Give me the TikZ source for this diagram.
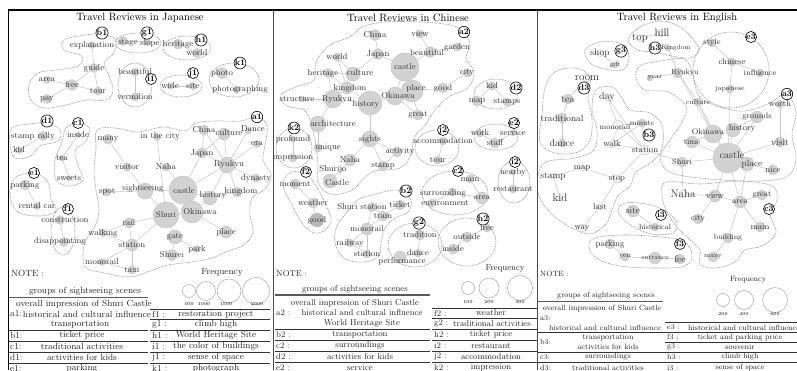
\documentclass[tikz,border=0pt]{standalone}
\pgfdeclarelayer{bgl}
\pgfdeclarelayer{edgelayer}
\pgfdeclarelayer{fg}
\pgfsetlayers{bgl,edgelayer,main,fg}
\newcommand{\fsz}[1]{\fontsize{#1}{#1}\selectfont}
\tikzset{
 bub/.style={circle, fill=gray!35, draw=gray!50, line width=0.3pt, inner sep=0pt},
 pale/.style={fill=gray!8},
 dark/.style={fill=gray!55},
 wt/.style={inner sep=0pt, text=black!80, font=\fsz{8.5}},
 edge/.style={draw=gray!45, line width=0.5pt},
 grp/.style={draw=gray!85, line width=0.55pt, dash pattern=on 0.9pt off 0.7pt},
 glab/.style={circle, draw=black, fill=white, line width=0.6pt, inner sep=0pt, minimum size=11pt, font=\bfseries\fsz{8.5}},
 ttl/.style={font=\fsz{10.6}, inner sep=0pt},
 tbA/.style={font=\fsz{9}, inner sep=0pt, text=black!85},
 tbB/.style={font=\fsz{8.5}, inner sep=0pt, text=black!85},
 tbC/.style={font=\fsz{7.6}, inner sep=0pt, text=black!85},
 tline/.style={line width=0.5pt, draw=black!80},
 tthick/.style={line width=1.1pt, draw=black!65},
 freq/.style={circle, draw=gray!70, line width=0.5pt, inner sep=0pt},
 fnum/.style={font=\fsz{4.5}, inner sep=0pt},
}
\newcommand{\W}[6][]{\node[bub,#1,minimum size=#5pt] (#2) at (#3,#4) {};\begin{pgfonlayer}{fg}\node[wt] (#2t) at (#3,#4) {#6};\end{pgfonlayer}}
\newcommand{\WO}[8][]{\node[bub,#1,minimum size=#5pt] (#2) at (#3,#4) {};\begin{pgfonlayer}{fg}\node[wt] (#2t) at (#6,#7) {#8};\end{pgfonlayer}}
\newcommand{\G}[4]{\begin{pgfonlayer}{fg}\node[glab] (#1) at (#2,#3) {#4};\end{pgfonlayer}}
\newcommand{\EE}[1]{\begin{pgfonlayer}{edgelayer}\foreach \a/\b in {#1} \draw[edge] (\a) -- (\b);\end{pgfonlayer}}
\newcommand{\OL}[1]{\begin{pgfonlayer}{edgelayer}\draw[grp] plot[smooth cycle, tension=0.6] coordinates {#1};\end{pgfonlayer}}
\newcommand{\ELL}[4]{\begin{pgfonlayer}{edgelayer}\draw[grp] (#1,#2) ellipse[x radius=#3pt, y radius=#4pt];\end{pgfonlayer}}
\begin{document}
\begin{tikzpicture}[x=1pt,y=-1pt]
\useasboundingbox (0,0) rectangle (797,370);
\begin{pgfonlayer}{bgl}\fill[white] (0,0) rectangle (797,370);\end{pgfonlayer}
% frame
\draw[line width=1.4pt] (8,10) -- (797,10);
\draw[line width=1.6pt] (8.5,10) -- (8.5,370);
\draw[line width=0.7pt, black!70] (273,10) -- (273,370);
\draw[line width=0.7pt, black!70] (537,10) -- (537,370);
\node[ttl] (t1) at (140,18) {Travel Reviews in Japanese};
\node[ttl] (t2) at (408,18) {Travel Reviews in Chinese};
\node[ttl] (t3) at (677,18) {Travel Reviews in English};

%================ PANEL 1 =================
\W{Jexpl}{92}{45}{7}{explanation}
\W{Jguide}{94}{68}{9}{guide}
\W{Jarea}{47}{80}{7}{area}
\W{Jfree}{72}{85}{11}{free}
\W{Jtour}{98}{91}{8}{tour}
\W{Jpay}{47}{99}{9}{pay}
\WO{Jstage}{123}{41}{9}{128}{43}{stage}
\WO{Jslope}{147}{42}{7}{150}{43}{slope}
\W{Jheritage}{178}{44}{10}{heritage}
\W{Jworld}{197}{53}{9}{world}
\W{Jbeau}{135}{72}{8}{beautiful}
\W{Jverm}{135}{97}{8}{vermilion}
\W{Jwide}{170}{86}{6}{wide}
\W{Jsite}{193}{86}{7}{site}
\W{Jphoto}{222}{73}{11}{photo}
\WO{Jphotog}{237}{89}{7}{240}{89}{photographing}
\WO{Jrally}{43}{136}{9}{33}{136}{stamp rally}
\W{Jkid}{19}{150}{7}{kid}
\W{Jinside}{78}{135}{5}{inside}
\W{Jtea}{62}{158}{6}{tea}
\W{Jsweets}{69}{178}{5}{sweets}
\W{Jparking}{25}{185}{10}{parking}
\W{Jrental}{37}{206}{7}{rental car}
\WO{Jconstr}{60}{220}{9}{65}{220}{construction}
\WO{Jdisap}{64}{242}{9}{60}{241}{disappointing}
\W{Jmany}{108}{139}{10}{many}
\WO{Jcity}{157}{137}{7}{160}{136}{in the city}
\W{JChina}{204}{130}{10}{China}
\WO{Jculture}{224}{134}{12}{229}{133}{culture}
\WO{JDance}{248}{131}{6}{253}{129}{Dance}
\W{Jera}{257}{144}{7}{era}
\W{JJapan}{202}{153}{10}{Japan}
\WO{JRyukyu}{227}{165}{16}{229}{164}{Ryukyu}
\W{Jvisitor}{127}{167}{8}{visitor}
\W{JNaha}{166}{167}{8}{Naha}
\W{Jdynasty}{256}{178}{8}{dynasty}
\W{Jspot}{107}{192}{8}{spot}
\WO{Jsight}{145}{191}{16}{143}{188}{sightseeing}
\WO{Jcastle}{183}{190}{28}{184}{191}{castle}
\WO{Jhistory}{210}{198}{14}{213}{195}{history}
\WO{Jkingdom}{237}{192}{10}{241}{191}{kingdom}
\W{JShuri}{166}{215}{26}{Shuri}
\WO{JOkinawa}{192}{212}{22}{200}{212}{Okinawa}
\W{Jrail}{129}{223}{10}{rail}
\W{Jwalking}{103}{233}{7}{walking}
\W{Jgate}{175}{237}{14}{gate}
\W{Jplace}{226}{232}{12}{place}
\W{Jstation}{132}{245}{12}{station}
\W{Jpark}{197}{249}{7}{park}
\W{JShurei}{172}{255}{11}{Shurei}
\W{Jmonorail}{102}{262}{7}{monorail}
\W{Jtaxi}{132}{270}{8}{taxi}
\EE{Jexpl/Jguide, Jguide/Jfree, Jguide/Jtour, Jfree/Jtour, Jarea/Jfree, Jpay/Jfree, Jstage/Jslope, Jheritage/Jworld, Jbeau/Jverm, Jwide/Jsite, Jphoto/Jphotog, Jrally/Jkid, Jinside/Jtea, Jtea/Jsweets, Jparking/Jrental, Jconstr/Jdisap,
Jmany/Jvisitor, Jvisitor/Jsight, Jcity/JShuri, JNaha/Jcastle, Jspot/Jsight, Jsight/Jcastle, Jsight/JShuri, JChina/JJapan, JChina/JRyukyu, Jculture/JJapan, Jculture/JRyukyu, JDance/JRyukyu, Jera/JRyukyu, JJapan/Jcastle, JJapan/JRyukyu, JRyukyu/Jcastle, JRyukyu/Jhistory, JRyukyu/Jdynasty, JRyukyu/Jkingdom, Jhistory/Jcastle, Jhistory/Jkingdom, Jcastle/JShuri, Jcastle/JOkinawa, JShuri/JOkinawa, JShuri/Jgate, JShuri/Jrail, JShuri/Jstation, JOkinawa/Jplace, JOkinawa/Jhistory, Jgate/JShurei, Jgate/Jpark, Jrail/Jwalking, Jrail/Jstation, Jwalking/Jstation, Jstation/Jmonorail, Jstation/Jtaxi, Jmonorail/Jtaxi}
% outlines
\OL{(64,40)(85,35)(104,34)(117,42)(112,55)(104,63)(109,76)(113,90)(106,100)(86,100)(66,105)(44,108)(31,100)(29,85)(38,73)(56,70)(78,66)(82,56)(64,50)}
\ELL{138}{43}{23}{10}
\ELL{187}{48}{24}{12}
\ELL{135}{85}{17}{22}
\ELL{181}{86}{21}{11}
\ELL{234}{80}{25}{17}
\OL{(12,128)(30,124)(47,123)(60,130)(58,141)(40,146)(31,156)(15,158)(10,145)}
\OL{(66,128)(78,123)(89,128)(86,141)(75,151)(79,168)(83,180)(70,186)(56,180)(55,160)(62,142)}
\OL{(15,178)(34,173)(48,182)(51,199)(56,211)(40,216)(18,212)(10,195)}
\ELL{63}{231}{12}{24}
\OL{(97,130)(115,128)(135,132)(148,130)(165,127)(185,131)(196,123)(215,121)(240,121)(257,117)(267,126)(265,145)(263,160)(271,175)(265,189)(252,198)(250,215)(253,232)(244,245)(228,251)(212,258)(192,262)(168,265)(150,271)(130,277)(105,273)(86,268)(83,255)(86,240)(95,226)(99,210)(96,190)(94,170)(96,150)}
\G{la1}{257}{117}{a1}
\G{lb1}{102}{33}{b1}
\G{lc1}{78}{123}{c1}
\G{ld1}{47}{121}{d1}
\G{le1}{34}{173}{e1}
\G{lf1}{68}{209}{f1}
\G{lg1}{147}{33}{g1}
\G{lh1}{201}{40}{h1}
\G{li1}{151}{79}{i1}
\G{lj1}{193}{73}{j1}
\G{lk1}{240}{63}{k1}
% table 1
\node[tbA, anchor=west] (n1) at (11,273) {NOTE :};
\node[tbA] (fq1) at (222,272) {Frequency};
\node[freq, minimum size=13pt] (c1a) at (189,291) {};
\node[freq, minimum size=19pt] (c1b) at (206,291) {};
\node[freq, minimum size=24pt] (c1c) at (229,291) {};
\node[freq, minimum size=27pt] (c1d) at (256,291) {};
\node[fnum] (c1an) at (189,304) {500};
\node[fnum] (c1bn) at (204,304) {1000};
\node[fnum] (c1cn) at (226,304) {1500};
\node[fnum] (c1dn) at (257,304) {2000};
\node[tbA] (p1g) at (85,291.5) {groups of sightseeing scenes};
\draw[tthick] (9,297.5) -- (148,297.5);
\node[tbA] (p1o) at (84,304) {overall impression of Shuri Castle};
\draw[tline] (150,309) -- (270,309);
\node[tbA, anchor=west] (p1a) at (10,314) {a1:};
\node[tbA] (p1at) at (87,314) {historical and cultural influence};
\node[tbA, anchor=west] (p1f) at (152,314) {f1 :};
\node[tbA] (p1ft) at (216,314) {restoration project};
\draw[tline] (150,319.5) -- (270,319.5);
\node[tbA] (p1tr) at (80,324.5) {transportation};
\node[tbA, anchor=west] (p1g1) at (152,324.5) {g1 :};
\node[tbA] (p1gt) at (216,324.5) {climb high};
\draw[tline] (9,330) -- (148,330);
\draw[tline] (150,330) -- (270,330);
\node[tbA, anchor=west] (p1b) at (10,335.5) {b1:};
\node[tbA] (p1bt) at (82,335.5) {ticket price};
\node[tbA, anchor=west] (p1h) at (152,335.5) {h1 :};
\node[tbA] (p1ht) at (216,335.5) {World Heritage Site};
\draw[tline] (9,341) -- (148,341);
\draw[tline] (150,341) -- (270,341);
\node[tbA, anchor=west] (p1c) at (10,346.5) {c1:};
\node[tbA] (p1ct) at (82,346.5) {traditional activities};
\node[tbA, anchor=west] (p1i) at (152,346.5) {i1 :};
\node[tbA] (p1it) at (216,346.5) {the color of buildings};
\draw[tline] (9,352) -- (148,352);
\draw[tline] (150,352) -- (270,352);
\node[tbA, anchor=west] (p1d) at (10,357.5) {d1:};
\node[tbA] (p1dt) at (82,357.5) {activities for kids};
\node[tbA, anchor=west] (p1j) at (152,357.5) {j1 :};
\node[tbA] (p1jt) at (216,357.5) {sense of space};
\draw[tline] (9,363) -- (148,363);
\draw[tline] (150,363) -- (270,363);
\node[tbA, anchor=west] (p1e) at (10,368.5) {e1:};
\node[tbA] (p1et) at (82,368.5) {parking};
\node[tbA, anchor=west] (p1k) at (152,368.5) {k1 :};
\node[tbA] (p1kt) at (216,368.5) {photograph};

%================ PANEL 2 =================
\W{CChina}{375}{35}{11}{China}
\W{Cview}{420}{34}{8}{view}
\W{Cgarden}{457}{47}{8}{garden}
\W{CJapan}{378}{54}{11}{Japan}
\WO{Cbeau}{430}{52}{11}{427}{53}{beautiful}
\W{Cworld}{337}{57}{8}{world}
\W{Ccastle}{405}{67}{28}{castle}
\WO{Cheritage}{328}{73}{9}{323}{73}{heritage}
\WO{Cculture}{353}{74}{14}{360}{73}{culture}
\W{Ccity}{467}{73}{8}{city}
\WO{Ckingdom}{347}{88}{12}{350}{88}{kingdom}
\W{Cgood}{443}{88}{10}{good}
\WO{COkinawa}{395}{96}{18}{398}{96}{Okinawa}
\WO{Cplace}{412}{91}{22}{416}{88}{place}
\WO{Cstructure}{302}{99}{6}{297}{99}{structure}
\WO{CRyukyu}{333}{99}{18}{337}{99}{Ryukyu}
\WO{Chistory}{370}{103}{24}{366}{104}{history}
\W{Cgreat}{418}{115}{10}{great}
\WO{Carch}{318}{124}{16}{333}{124}{architecture}
\W{Csights}{370}{139}{16}{sights}
\WO{Cunique}{318}{148}{8}{328}{148}{unique}
\WO{Cactivity}{397}{152}{10}{400}{152}{activity}
\W{CNaha}{350}{160}{12}{Naha}
\W{Cstamp}{383}{166}{10}{stamp}
\WO{CShurijo}{330}{181}{14}{337}{183}{Castle}
\begin{pgfonlayer}{fg}\node[wt] (CShurijo2) at (333,169) {Shurijo};\end{pgfonlayer}
\W{Ckid}{492}{86}{8}{kid}
\W{Cmap}{477}{101}{10}{map}
\W{Cstamps}{507}{102}{8}{stamps}
\W{Cwork}{480}{133}{8}{work}
\W{Cservice}{513}{133}{6}{service}
\W{Cstaff}{495}{143}{10}{staff}
\W{Caccom}{443}{141}{8}{accommodation}
\W{Ctour}{438}{160}{8}{tour}
\W{Cprofound}{293}{139}{6}{profound}
\W{Cimpr}{293}{158}{8}{impression}
\W{Cmoment}{295}{184}{10}{moment}
\W{Cweather}{313}{203}{10}{weather}
\W[dark]{Cgood2}{317}{220}{14}{good}
\W{Cmain}{470}{179}{8}{main}
\WO{Csurr}{452}{192}{8}{443}{193}{surrounding}
\W{Carea}{482}{198}{12}{area}
\WO{Cenv}{432}{203}{8}{445}{203}{environment}
\W{Cnearby}{513}{172}{6}{nearby}
\W{Crest}{513}{189}{8}{restaurant}
\WO{Cshst}{372}{207}{9}{362}{207}{Shuri station}
\W{Cticket}{400}{205}{10}{ticket}
\W{Ctram}{383}{216}{10}{tram}
\W{Cmono}{367}{229}{12}{monorail}
\W{Crailway}{350}{243}{8}{railway}
\W{Cstation}{367}{254}{8}{station}
\W{Ctrad}{420}{235}{10}{tradition}
\W{Cdance}{418}{253}{8}{dance}
\WO{Cperf}{400}{257}{12}{402}{261}{performance}
\W{Cfree}{487}{228}{8}{free}
\W{Coutside}{467}{237}{10}{outside}
\W{Cinside}{453}{249}{10}{inside}
\EE{CChina/CJapan, Cview/Cbeau, Cbeau/Ccastle, Cgarden/Cbeau, CJapan/Ccastle, CJapan/Cculture, Cworld/Cculture, Cworld/Ckingdom, Cheritage/Cculture, Cheritage/Ckingdom, Cheritage/CRyukyu, Cculture/Ckingdom, Cculture/CRyukyu, Ckingdom/CRyukyu, Ckingdom/Chistory, Cstructure/CRyukyu, CRyukyu/Chistory, CRyukyu/Carch, Chistory/COkinawa, Chistory/Csights, COkinawa/Ccastle, COkinawa/Cplace, COkinawa/Cgreat, Ccastle/Cplace, Cplace/Cgood, Cplace/Cgreat, Cgood/Ccity, Carch/Cunique, Csights/CNaha, Csights/Cactivity, Csights/Cstamp, Cactivity/Cstamp, CNaha/CShurijo, Ckid/Cmap, Ckid/Cstamps, Cwork/Cstaff, Cservice/Cstaff, Caccom/Ctour, Cprofound/Cimpr, Cmoment/Cweather, Cweather/Cgood2, Cmain/Carea, Csurr/Carea, Csurr/Cenv, Cnearby/Crest, Cshst/Ctram, Cshst/Cmono, Cticket/Ctram, Ctram/Cmono, Cmono/Crailway, Cmono/Cstation, Crailway/Cstation, Ctrad/Cdance, Cdance/Cperf, Cfree/Coutside, Coutside/Cinside}
\OL{(330,45)(350,37)(362,27)(385,22)(420,22)(450,25)(464,32)(470,45)(466,58)(474,72)(468,88)(450,96)(435,110)(425,125)(414,138)(411,155)(400,168)(372,172)(352,190)(330,194)(318,182)(318,165)(315,140)(306,112)(287,106)(281,95)(298,86)(314,80)(316,62)}
\ELL{496}{94}{22}{15}
\ELL{496}{137}{22}{13}
\ELL{437}{148}{22}{18}
\ELL{294}{148}{18}{20}
\OL{(298,172)(312,180)(326,205)(331,222)(319,233)(305,227)(292,205)(283,186)(288,174)}
\ELL{455}{193}{33}{22}
\ELL{514}{182}{16}{21}
\OL{(372,195)(398,190)(411,200)(408,212)(395,218)(385,228)(381,243)(379,256)(365,262)(345,259)(335,243)(337,226)(347,212)(356,201)}
\ELL{415}{245}{27}{22}
\ELL{467}{242}{29}{24}
\G{la2}{464}{32}{a2}
\G{lb2}{406}{191}{b2}
\G{lc2}{458}{171}{c2}
\G{ld2}{516}{88}{d2}
\G{le2}{514}{123}{e2}
\G{lf2}{306}{172}{f2}
\G{lg2}{419}{223}{g2}
\G{lh2}{483}{219}{h2}
\G{li2}{515}{162}{i2}
\G{lj2}{443}{130}{j2}
\G{lk2}{294}{128}{k2}
% table 2
\node[tbB, anchor=west] (n2) at (276,274) {NOTE :};
\node[tbB] (fq2) at (505,268) {Frequency};
\node[freq, minimum size=13pt] (c2a) at (468,288) {};
\node[freq, minimum size=20pt] (c2b) at (489,288) {};
\node[freq, minimum size=25pt] (c2c) at (520,288) {};
\node[fnum] (c2an) at (468,302) {100};
\node[fnum] (c2bn) at (489,302) {200};
\node[fnum] (c2cn) at (520,302) {300};
\node[tbB] (p2g) at (355,289.5) {groups of sightseeing scenes};
\draw[tthick] (275,295) -- (430,295);
\node[tbB] (p2o) at (355,303) {overall impression of Shuri Castle};
\draw[tline] (432,308) -- (537,308);
\node[tbB, anchor=west] (p2a) at (276,313) {a2 :};
\node[tbB] (p2at) at (362,313) {historical and cultural influence};
\node[tbB, anchor=west] (p2f) at (434,313) {f2 :};
\node[tbB] (p2ft) at (491,313) {weather};
\draw[tline] (432,318.5) -- (537,318.5);
\node[tbB] (p2w) at (362,323.5) {World Heritage Site};
\node[tbB, anchor=west] (p2g2) at (434,323.5) {g2 :};
\node[tbB] (p2gt) at (492,323.5) {traditional activities};
\draw[tline] (275,329) -- (430,329);
\draw[tline] (432,329) -- (537,329);
\node[tbB, anchor=west] (p2b) at (276,334.5) {b2 :};
\node[tbB] (p2bt) at (360,334.5) {transportation};
\node[tbB, anchor=west] (p2h) at (434,334.5) {h2 :};
\node[tbB] (p2ht) at (491,334.5) {ticket price};
\draw[tline] (275,340) -- (430,340);
\draw[tline] (432,340) -- (537,340);
\node[tbB, anchor=west] (p2c) at (276,345.5) {c2 :};
\node[tbB] (p2ct) at (360,345.5) {surroundings};
\node[tbB, anchor=west] (p2i) at (434,345.5) {i2 :};
\node[tbB] (p2it) at (491,345.5) {restaurant};
\draw[tline] (275,351) -- (430,351);
\draw[tline] (432,351) -- (537,351);
\node[tbB, anchor=west] (p2d) at (276,356.5) {d2 :};
\node[tbB] (p2dt) at (360,356.5) {activities for kids};
\node[tbB, anchor=west] (p2j) at (434,356.5) {j2 :};
\node[tbB] (p2jt) at (491,356.5) {accommodation};
\draw[tline] (275,362) -- (430,362);
\draw[tline] (432,362) -- (537,362);
\node[tbB, anchor=west] (p2e) at (276,367.5) {e2 :};
\node[tbB] (p2et) at (360,367.5) {service};
\node[tbB, anchor=west] (p2k) at (434,367.5) {k2 :};
\node[tbB] (p2kt) at (491,367.5) {impression};

%================ PANEL 3 =================
\W[pale]{Etop}{640}{38}{7}{\fsz{11}top}
\W[pale]{Ehill}{662}{33}{7}{\fsz{11}hill}
\WO{EKing}{668}{48}{6}{676}{48}{\fsz{6.5}Kingdom}
\W[pale]{Eshop}{600}{53}{7}{\fsz{9.5}shop}
\W{Egift}{615}{65}{6}{\fsz{6.5}gift}
\W{Estyle}{712}{43}{8}{\fsz{8}style}
\W{Echinese}{732}{62}{8}{\fsz{8.5}chinese}
\W{Einfl}{760}{73}{8}{\fsz{8}influence}
\W{Ejapanese}{730}{89}{8}{\fsz{7}japanese}
\W[pale]{Eroom}{587}{78}{8}{\fsz{11}room}
\WO{Eyear}{650}{78}{6}{655}{78}{\fsz{7}year}
\WO{ERyukyu}{678}{73}{10}{685}{73}{\fsz{7.5}Ryukyu}
\W{Etea}{568}{99}{10}{\fsz{10}tea}
\W[pale]{Eday}{607}{97}{7}{\fsz{10}day}
\W{Eculture}{698}{102}{8}{\fsz{7}culture}
\W{Eworth}{780}{104}{8}{\fsz{8.5}worth}
\W{Etrad}{562}{118}{10}{\fsz{9}traditional}
\W{Egrounds}{757}{117}{12}{\fsz{8}grounds}
\WO[pale]{Emono}{618}{125}{10}{615}{127}{\fsz{7.5}monorail}
\W{Eminute}{642}{123}{8}{\fsz{7.5}minute}
\WO{EOkinawa}{713}{134}{18}{708}{132}{\fsz{8}Okinawa}
\WO{Ehistory}{733}{130}{14}{742}{128}{\fsz{8.5}history}
\W{Edance}{562}{143}{8}{\fsz{10}dance}
\W[pale]{Ewalk}{612}{144}{8}{\fsz{8.5}walk}
\W{Etime}{692}{142}{12}{\fsz{8}time}
\W{Evisit}{780}{142}{10}{\fsz{9.5}visit}
\W[pale]{Estation}{645}{150}{10}{\fsz{8.5}station}
\WO{Ecastle}{728}{158}{30}{732}{155}{\fsz{10}castle}
\W{EShuri}{682}{162}{10}{\fsz{8}Shuri}
\WO{Eplace}{747}{164}{14}{752}{164}{\fsz{9}place}
\W{Enice}{773}{170}{10}{\fsz{8.5}nice}
\W[pale]{Emap}{582}{168}{6}{\fsz{8.5}map}
\W[pale]{Estamp}{553}{176}{6}{\fsz{9.5}stamp}
\W[pale]{Estop}{617}{179}{8}{\fsz{8.5}stop}
\W[pale]{ENaha}{683}{194}{8}{\fsz{11}Naha}
\W{Eview}{715}{196}{12}{\fsz{9}view}
\W{Egreat}{762}{195}{10}{\fsz{8}great}
\W[pale]{Ekid}{560}{198}{6}{\fsz{11}kid}
\W{Earea}{740}{202}{12}{\fsz{8}area}
\W[pale]{Elast}{600}{207}{6}{\fsz{8.5}last}
\W{Esite}{633}{211}{12}{\fsz{9}site}
\W{Ecity}{698}{219}{10}{\fsz{8}city}
\W{Ehist}{655}{227}{8}{\fsz{7.5}historical}
\W{Emain}{760}{227}{10}{\fsz{8.5}main}
\W[pale]{Eway}{582}{228}{8}{\fsz{8.5}way}
\W{Ebuild}{728}{238}{10}{\fsz{7.5}building}
\W{Eparking}{610}{244}{10}{\fsz{8.5}parking}
\W{Eyen}{625}{257}{8}{\fsz{7.5}yen}
\W{Eentr}{655}{258}{12}{\fsz{6.5}entrance}
\W{Efee}{680}{259}{10}{\fsz{9.5}fee}
\W{Emany}{713}{257}{10}{\fsz{6.5}many}
\EE{Etop/Ehill, Eshop/Egift, Eyear/ERyukyu, ERyukyu/EKing, ERyukyu/Eculture, ERyukyu/EOkinawa, Eculture/EOkinawa, Eculture/Ecastle, Ejapanese/Ecastle, Echinese/Ejapanese, Echinese/Estyle, Echinese/Einfl, Eworth/Evisit, Egrounds/Ecastle, Egrounds/Ehistory, Ehistory/Ecastle, EOkinawa/Ecastle, EOkinawa/Etime, Etime/Ecastle, EShuri/Ecastle, Ecastle/Eplace, Ecastle/Evisit, Eplace/Enice, Ecastle/Earea, Eplace/Earea, Ecastle/Eview, ENaha/Eview, Eview/Earea, Earea/Egreat, Eview/Ecity, Earea/Emain, Earea/Ebuild, Ebuild/Emany, EShuri/ENaha, Estation/EShuri, Eroom/Etea, Etea/Etrad, Etrad/Edance, Eday/Emono, Eday/Estation, Emono/Eminute, Emono/Ewalk, Emono/Estation, Eminute/Estation, Eminute/Ewalk, Ewalk/Estation, Estation/Estop, Emap/Estamp, Emap/Estop, Estamp/Ekid, Estop/Elast, Elast/Eway, Esite/Ehist, Eparking/Eyen, Eyen/Eentr, Eentr/Efee}
\OL{(628,40)(640,27)(662,21)(680,27)(692,38)(699,50)(690,58)(672,56)(655,52)(638,50)}
\OL{(585,50)(600,42)(622,44)(629,57)(623,70)(605,69)(590,63)}
\ELL{731}{70}{38}{38}
\OL{(640,66)(660,61)(684,59)(692,72)(699,96)(720,107)(745,111)(770,103)(786,94)(796,112)(792,135)(796,160)(786,177)(755,181)(710,179)(672,173)(660,158)(670,140)(682,122)(686,106)(668,92)(645,90)(636,78)}
\OL{(555,72)(575,68)(590,77)(588,98)(592,118)(590,140)(578,152)(555,153)(540,142)(542,115)(545,88)}
\OL{(596,90)(612,87)(622,98)(630,110)(650,113)(662,125)(662,148)(652,162)(636,172)(630,186)(618,196)(612,210)(606,224)(590,234)(570,227)(552,214)(539,196)(538,176)(546,162)(575,158)(594,150)(597,130)(592,110)}
\OL{(622,204)(640,203)(662,209)(676,221)(673,233)(652,234)(632,226)(619,214)}
\OL{(595,238)(625,235)(660,237)(683,241)(692,254)(685,266)(655,268)(620,266)(598,259)(589,248)}
\OL{(666,182)(700,184)(740,181)(772,186)(777,200)(770,214)(776,233)(762,246)(745,250)(735,262)(715,268)(700,264)(700,250)(688,238)(676,226)(666,210)(662,195)}
\G{la3}{787}{94}{a3}
\G{lb3}{649}{135}{b3}
\G{lc3}{769}{209}{c3}
\G{ld3}{584}{88}{d3}
\G{le3}{751}{37}{e3}
\G{lf3}{680}{244}{f3}
\G{lg3}{621}{51}{g3}
\G{lh3}{655}{48}{h3}
\G{li3}{661}{215}{i3}
% table 3
\node[tbC, anchor=west] (n3) at (540,274) {NOTE :};
\node[tbC] (fq3) at (748,280) {Frequency};
\node[freq, minimum size=13pt] (c3a) at (723,300) {};
\node[freq, minimum size=19pt] (c3b) at (744,300) {};
\node[freq, minimum size=25pt] (c3c) at (775,300) {};
\node[fnum] (c3an) at (723,314) {200};
\node[fnum] (c3bn) at (744,314) {400};
\node[fnum] (c3cn) at (775,314) {600};
\node[tbC] (p3g) at (606,295.5) {groups of sightseeing scenes};
\draw[tthick] (538,301.5) -- (663,301.5);
\node[tbC] (p3o) at (602,309) {overall impression of Shuri Castle};
\node[tbC, anchor=west] (p3a) at (540,318.5) {a3:};
\draw[tline] (665,322.5) -- (797,322.5);
\node[tbC] (p3at) at (605,327.5) {historical and cultural influence};
\node[tbC, anchor=west] (p3e) at (667,327.5) {e3 :};
\node[tbC] (p3et) at (744,327.5) {historical and cultural influence};
\draw[tline] (538,332.5) -- (797,332.5);
\node[tbC] (p3tr) at (608,337.5) {transportation};
\node[tbC, anchor=west] (p3b) at (540,342) {b3:};
\node[tbC, anchor=west] (p3f) at (667,337.5) {f3 ;};
\node[tbC] (p3ft) at (740,337.5) {ticket and parking price};
\draw[tline] (665,342.5) -- (797,342.5);
\node[tbC] (p3ak) at (608,347) {activities for kids};
\node[tbC, anchor=west] (p3g3) at (667,347) {g3 :};
\node[tbC] (p3gt) at (740,347) {souvenir};
\draw[tline] (538,352) -- (797,352);
\node[tbC, anchor=west] (p3c) at (540,357) {c3:};
\node[tbC] (p3ct) at (608,357) {surroundings};
\node[tbC, anchor=west] (p3h) at (667,357) {h3 :};
\node[tbC] (p3ht) at (740,357) {climb high};
\draw[tline] (538,362) -- (797,362);
\node[tbC, anchor=west] (p3d) at (540,368) {d3:};
\node[tbC] (p3dt) at (608,368) {traditional activities};
\node[tbC, anchor=west] (p3i) at (667,368) {i3 :};
\node[tbC] (p3it) at (740,368) {sense of space};
\end{tikzpicture}
\end{document}
